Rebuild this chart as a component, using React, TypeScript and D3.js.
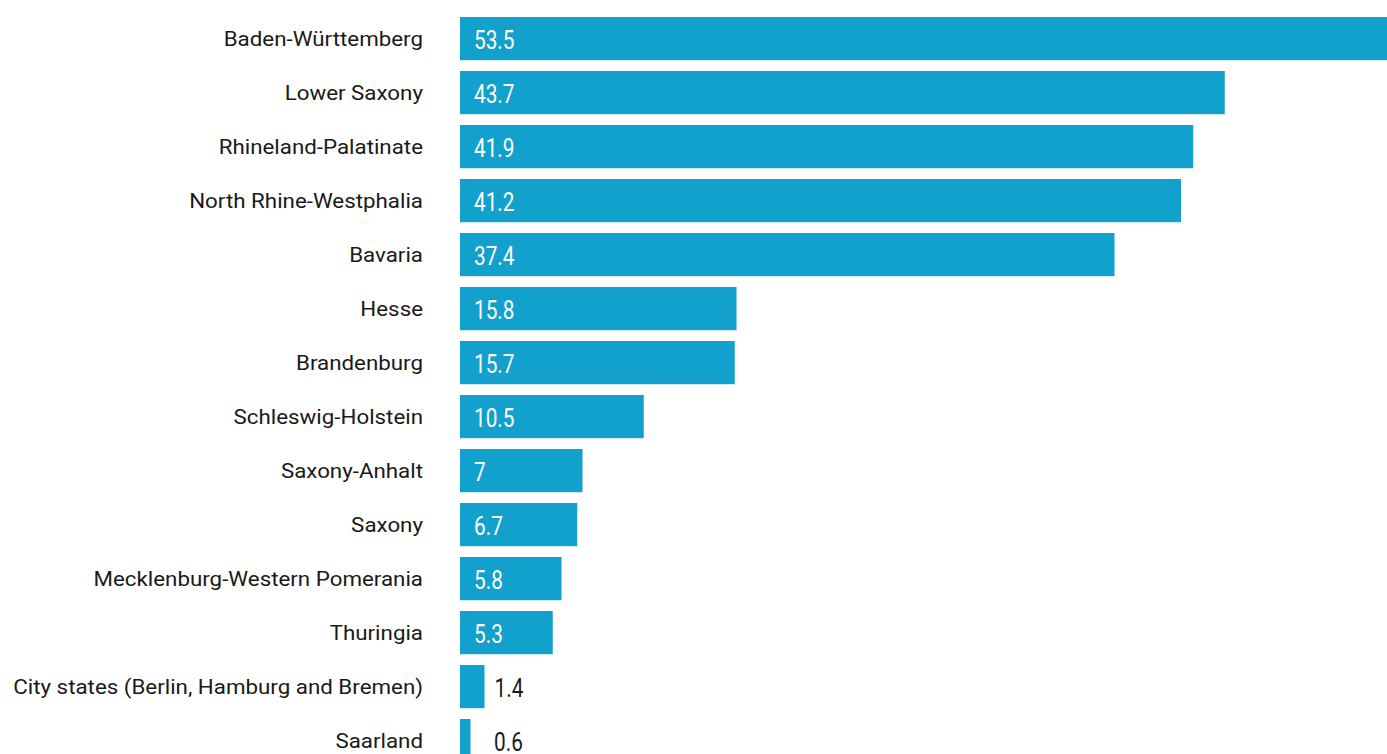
import React from "react";
import * as d3 from "d3";

const categories = [
  "Baden-Württemberg",
  "Lower Saxony",
  "Rhineland-Palatinate",
  "North Rhine-Westphalia",
  "Bavaria",
  "Hesse",
  "Brandenburg",
  "Schleswig-Holstein",
  "Saxony-Anhalt",
  "Saxony",
  "Mecklenburg-Western Pomerania",
  "Thuringia",
  "City states (Berlin, Hamburg and Bremen)",
  "Saarland",
];
const values = [53.5, 43.7, 41.9, 41.2, 37.4, 15.8, 15.7, 10.5, 7, 6.7, 5.8, 5.3, 1.4, 0.6];
const valueLabels = ["53.5", "43.7", "41.9", "41.2", "37.4", "15.8", "15.7", "10.5", "7", "6.7", "5.8", "5.3", "1.4", "0.6"];

const W = 1387;
const H = 754;
const BAR = "#12a0cd";

export default function App() {
  const x = d3.scaleLinear().domain([0, 53.5]).range([460, 460 + 53.5 * 17.5]);
  const y = d3
    .scaleBand<string>()
    .domain(categories)
    .range([11.6, 11.6 + 14 * 54])
    .paddingInner(0.2)
    .paddingOuter(0.1);
  const bw = y.bandwidth();
  return (
    <>
      <style>{`body{margin:0;overflow:hidden}`}</style>
      <svg width={W} height={H} style={{ display: "block" }}>
        <rect width={W} height={H} fill="#fff" />
        {categories.map((c, i) => {
          const y0 = y(c)!;
          const cy = y0 + bw / 2;
          const v = values[i];
          const inside = v >= 3;
          const lx = inside ? x(0) + 14 : Math.max(x(v) + 10, x(0) + 34);
          return (
            <g key={c}>
              <rect x={x(0)} y={y0} width={x(v) - x(0)} height={bw} fill={BAR} />
              <text
                transform={`translate(423,${cy + 7.3}) scale(1.117,1)`}
                textAnchor="end"
                fontFamily="Roboto, sans-serif"
                fontSize={20}
                fill="#1a1a1a"
              >
                {c}
              </text>
              <text
                transform={`translate(${lx},${cy + 10.7}) scale(0.8,1)`}
                fontFamily="Roboto, sans-serif"
                fontSize={26}
                fill={inside ? "#ffffff" : "#1a1a1a"}
              >
                {valueLabels[i]}
              </text>
            </g>
          );
        })}
      </svg>
    </>
  );
}
